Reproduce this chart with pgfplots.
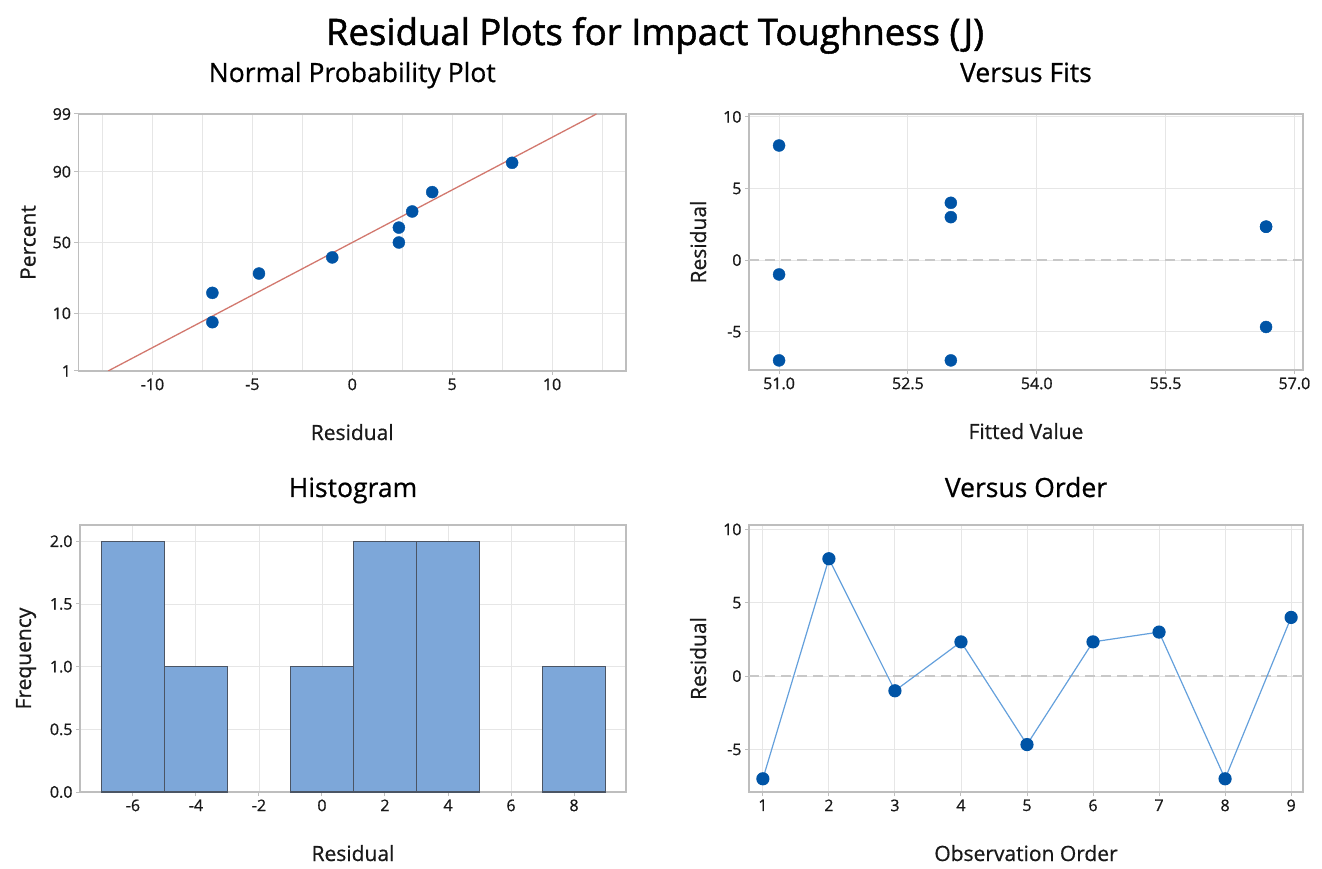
\documentclass[border=0pt]{standalone}
\usepackage{pgfplots}
\pgfplotsset{compat=1.18}
\usepackage{fontspec}
\setmainfont{Open Sans}
\newfontfamily\fbA[FakeBold=1.4]{Open Sans}
\newfontfamily\fbB[FakeBold=0.7]{Open Sans}
\newfontfamily\fbC[FakeBold=0.9]{Open Sans}
\definecolor{dotblue}{RGB}{0,84,166}
\definecolor{framegray}{RGB}{190,190,190}
\definecolor{gridgray}{RGB}{230,230,230}
\definecolor{labelc}{RGB}{25,25,25}
\definecolor{fitred}{RGB}{210,120,110}
\definecolor{barfill}{RGB}{125,167,217}
\definecolor{baredge}{RGB}{75,85,100}
\definecolor{linblue}{RGB}{100,160,220}
\definecolor{zerogray}{RGB}{200,200,200}
\pgfplotsset{
  mystyle/.style={
    scale only axis, anchor=north west,
    axis line style={draw=framegray, line width=1.5pt},
    grid=major, grid style={draw=gridgray, line width=0.9pt},
    tick align=outside, major tick length=4pt, minor tick length=0pt,
    tick style={draw=framegray, line width=1pt},
    xtick pos=left, ytick pos=left,
    tick label style={font=\fbC\fontsize{16}{18}\selectfont, text=labelc},
    /pgf/number format/assume math mode=true,
    label style={font=\fbB\fontsize{21}{24}\selectfont, text=labelc},
    title style={font=\fbB\fontsize{26.5}{30}\selectfont, text=black, at={(0.5,1)}, anchor=base, yshift=26pt},
    xlabel style={at={([yshift=-69pt]axis description cs:0.5,0)}, anchor=base},
    ylabel style={at={([xshift=-43pt]axis description cs:0,0.5)}, anchor=base},
  },
  dots/.style={only marks, mark=*, mark size=6pt, mark options={draw=dotblue, fill=dotblue}},
  bars/.style={ybar interval, fill=barfill, draw=baredge, line width=1.2pt},
}
\begin{document}
\begin{tikzpicture}
\path[use as bounding box] (0pt,0pt) rectangle (1322pt,868pt);
\node[anchor=base, font=\fbA\fontsize{36.5}{42}\selectfont] at (655pt,823pt) {Residual Plots for Impact Toughness (J)};

% Normal probability plot
\begin{axis}[mystyle, at={(78.5pt,754pt)}, width=547.5pt, height=257pt,
  xmin=-13.7, xmax=13.7, ymin=-2.3263, ymax=2.3263,
  xtick={-10,-5,0,5,10}, xticklabels={-10,-5,0,5,10},
  minor xtick={-12.5,-7.5,-2.5,2.5,7.5,12.5},
  grid=both, minor grid style={draw=gridgray, line width=0.9pt},
  ytick={-2.3263,-1.2816,0,1.2816,2.3263}, yticklabels={1,10,50,90,99},
  title={Normal Probability Plot}, xlabel={Residual}, ylabel={Percent}]
\addplot[draw=fitred, line width=1.3pt] coordinates {(-12.22,-2.3263) (12.22,2.3263)};
\addplot[dots] coordinates {(-7,-1.4430) (-7,-0.9118) (-4.667,-0.5614) (-1,-0.2700) (2.333,0) (2.333,0.2700) (3,0.5614) (4,0.9118) (8,1.4430)};
\end{axis}

% Versus fits
\begin{axis}[mystyle, at={(749pt,754pt)}, width=554pt, height=256pt,
  xmin=50.65, xmax=57.1, ymin=-7.67, ymax=10.2,
  xtick={51,52.5,54,55.5,57}, xticklabels={51.0,52.5,54.0,55.5,57.0},
  ytick={-5,0,5,10}, yticklabels={-5,0,5,10},
  title={Versus Fits}, xlabel={Fitted Value}, ylabel={Residual}]
\addplot[draw=zerogray, line width=1.5pt, dash pattern=on 10pt off 6pt] coordinates {(50.65,0) (57.1,0)};
\addplot[dots] coordinates {(51,-7) (51,8) (51,-1) (53,4) (53,3) (53,-7) (56.67,2.333) (56.67,-4.667) (56.67,2.333)};
\end{axis}

% Histogram
\begin{axis}[mystyle, at={(80pt,343pt)}, width=546pt, height=267pt,
  title style={yshift=-4pt},
  xmin=-7.68, xmax=9.65, ymin=0, ymax=2.13,
  xtick={-6,-4,-2,0,2,4,6,8}, xticklabels={-6,-4,-2,0,2,4,6,8},
  ytick={0,0.5,1,1.5,2}, yticklabels={0.0,0.5,1.0,1.5,2.0},
  title={Histogram}, xlabel={Residual}, ylabel={Frequency},
  ylabel style={at={([xshift=-49pt]axis description cs:0,0.5)}}]
\addplot[bars] coordinates {(-7,2) (-5,1) (-3,0)};
\addplot[bars] coordinates {(-1,1) (1,2) (3,2) (5,0)};
\addplot[bars] coordinates {(7,1) (9,0)};
\end{axis}

% Versus order
\begin{axis}[mystyle, at={(749pt,343pt)}, width=554pt, height=267pt,
  title style={yshift=-4pt},
  xmin=0.79, xmax=9.18, ymin=-7.9, ymax=10.3,
  xtick={1,2,3,4,5,6,7,8,9}, xticklabels={1,2,3,4,5,6,7,8,9},
  ytick={-5,0,5,10}, yticklabels={-5,0,5,10},
  title={Versus Order}, xlabel={Observation Order}, ylabel={Residual}]
\addplot[draw=zerogray, line width=1.5pt, dash pattern=on 10pt off 6pt] coordinates {(0.79,0) (9.18,0)};
\addplot[draw=linblue, line width=1.2pt, mark=*, mark size=6pt, mark options={draw=dotblue, fill=dotblue}] coordinates {(1,-7) (2,8) (3,-1) (4,2.333) (5,-4.667) (6,2.333) (7,3) (8,-7) (9,4)};
\end{axis}
\end{tikzpicture}
\end{document}
